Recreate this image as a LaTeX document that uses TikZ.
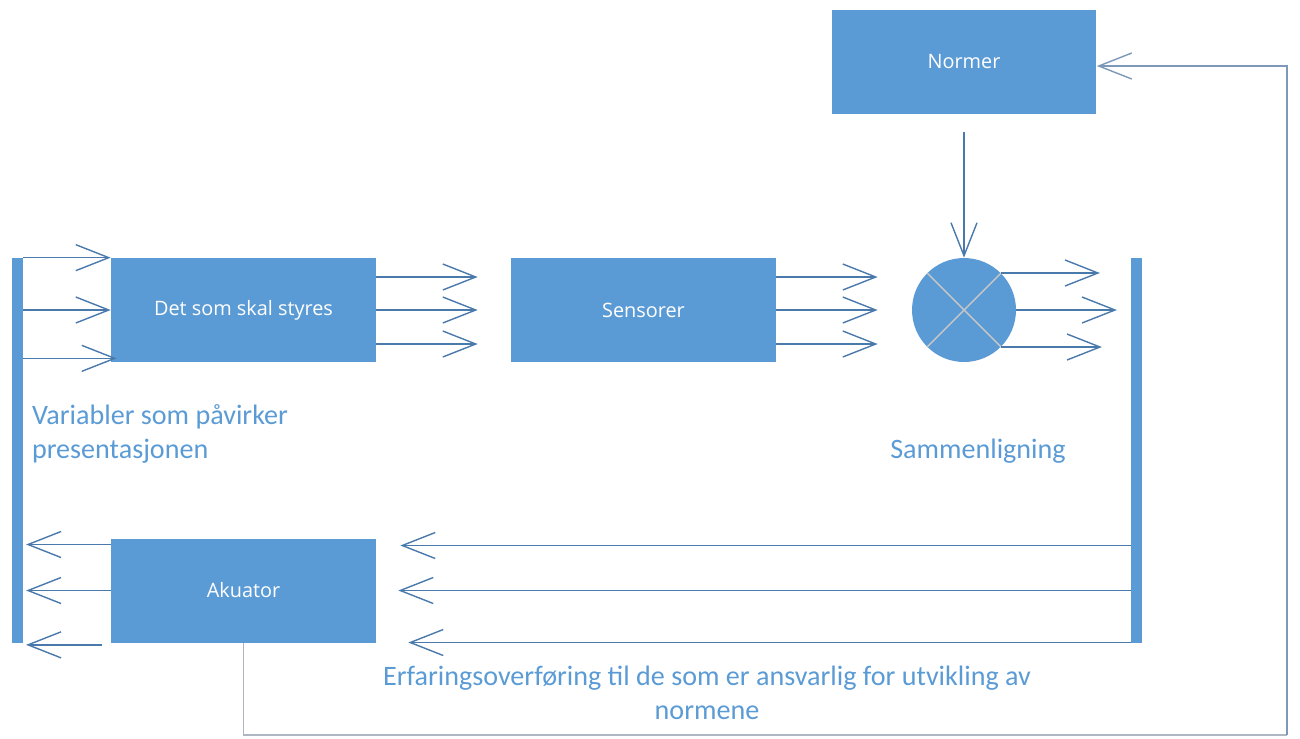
\documentclass[tikz,border=0pt]{standalone}
\usepackage{fontspec}
\setmainfont{Carlito}
\newfontfamily\boxfont{Open Sans}
\usetikzlibrary{arrows.meta,positioning,calc}
\definecolor{boxblue}{HTML}{5B9BD5}
\definecolor{lineblue}{HTML}{4A79AB}
\definecolor{textblue}{HTML}{5B9BD5}
\definecolor{feedgray}{HTML}{AEB7C1}
\definecolor{feedblue}{HTML}{7D98B8}
\tikzset{
  box/.style={fill=boxblue, minimum width=5.3cm, minimum height=2.08cm, inner sep=0pt, text=white, font=\boxfont\fontsize{11.3}{13}\selectfont},
  bar/.style={fill=boxblue, minimum width=0.21cm, minimum height=7.7cm, inner sep=0pt},
  cmpcircle/.style={circle, fill=boxblue, minimum size=2.08cm, inner sep=0pt},
  cross/.style={draw=black!22, line width=0.8pt},
  arrow/.style={-{Straight Barb[length=6.6mm,width=5.2mm]}, line width=0.8pt, draw=lineblue},
  feedline/.style={line width=0.8pt, draw=feedgray},
  bluetext/.style={text=textblue, inner sep=0pt, align=left, font=\fontsize{16}{19.3}\selectfont}
}

\begin{document}
\begin{tikzpicture}[x=0.02cm, y=-0.02cm]
\useasboundingbox (0,0) rectangle (1300,738);
% blokker
\node[box] (plant) at (243.5,310) {Det som skal styres};
\node[box] (sensor) at (643.5,310) {Sensorer};
\node[box] (norm) at (964,62) {Normer};
\node[box] (akuator) at (243.5,590.5) {Akuator};
\node[cmpcircle] (cmp) at (964,310) {};
\draw[cross] (cmp.45) -- (cmp.225);
\draw[cross] (cmp.135) -- (cmp.315);
\node[bar] (lbar) at (17.5,450.5) {};
\node[bar] (rbar) at (1136.5,450.5) {};
% inn til prosessen
\draw[arrow] (lbar.east |- plant.north) -- (plant.north west);
\draw[arrow] (lbar.east |- plant.west) -- (plant.west);
\draw[arrow] ($(lbar.east |- plant.south west)+(0,-4)$) -- ($(plant.south west)+(6,-4)$);
% prosess til sensor til sammenligning
\foreach \dy in {-33,0,34}
  \draw[arrow] ($(plant.east)+(0,\dy)$) -- ($(sensor.west)+(-33,\dy)$);
\foreach \dy in {-33,0,34}
  \draw[arrow] ($(sensor.east)+(0,\dy)$) -- ($(cmp.west)+(-34,\dy)$);
% ut fra sammenligning
\draw[arrow] (cmp.45) -- ($(cmp.45 -| rbar.west)+(-31,0)$);
\draw[arrow] (cmp.east) -- ($(cmp.east -| rbar.west)+(-14,0)$);
\draw[arrow] (cmp.315) -- ($(cmp.315 -| rbar.west)+(-29,0)$);
\draw[arrow] ($(norm.south)+(0,18)$) -- (cmp.north);
% tilbake til aktuator og variabler
\foreach \dy/\gap in {-45/24,0/22,52/32}
  \draw[arrow] ($(rbar.west |- akuator.east)+(0,\dy)$) -- ($(akuator.east)+(\gap,\dy)$);
\draw[arrow] ($(akuator.west)+(0,-46)$) -- ($(lbar.east |- akuator.west)+(3,-46)$);
\draw[arrow] (akuator.west) -- ($(lbar.east |- akuator.west)+(3,0)$);
\draw[arrow] ($(akuator.south west)+(-9,2)$) -- ($(lbar.east |- akuator.south west)+(3,2)$);
% erfaringsoverføring
\coordinate (fbcorner) at (1287,735);
\draw[feedline] (akuator.south) |- (fbcorner);
\draw[arrow, draw=feedblue] (fbcorner) |- ($(norm.east)+(0,4)$);
% tekster
\node[bluetext] (varlabel) at (160,434) {Variabler som påvirker\\presentasjonen};
\node[bluetext] (cmplabel) at (978,451) {Sammenligning};
\node[bluetext, align=center] (fblabel) at (707,693) {Erfaringsoverføring til de som er ansvarlig for utvikling av\\normene};
\end{tikzpicture}
\end{document}
